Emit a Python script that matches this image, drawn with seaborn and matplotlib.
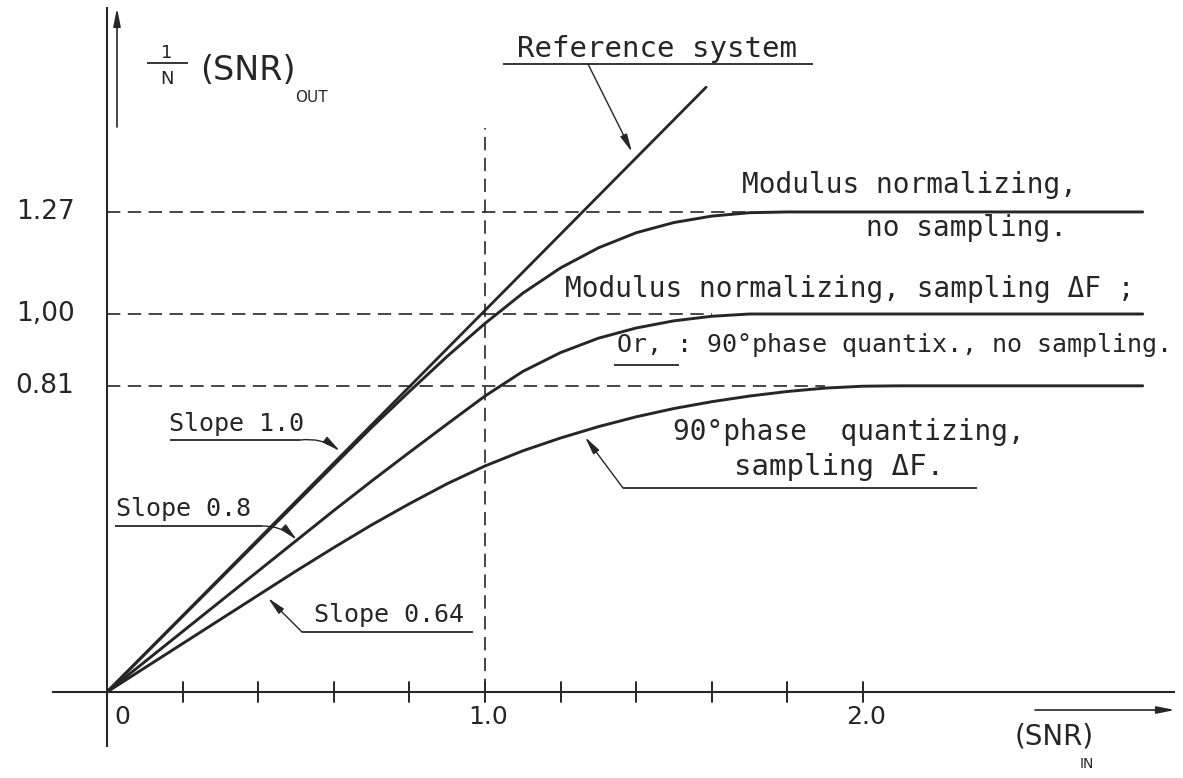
import matplotlib
matplotlib.use("Agg")
import matplotlib.pyplot as plt
import numpy as np
import pandas as pd
import seaborn as sns

# ---------------- data ----------------
snr_in = [0.0, 0.2, 0.4, 0.5, 0.6, 0.7, 0.8, 0.9, 1.0, 1.1, 1.2, 1.3, 1.4, 1.5,
          1.6, 1.7, 1.8, 1.9, 2.0, 2.1, 2.74]
mod_no_sampling = [0.0, 0.2, 0.4, 0.5, 0.6, 0.7, 0.795, 0.888, 0.975, 1.055, 1.122,
                   1.175, 1.215, 1.242, 1.259, 1.268, 1.27, 1.27, 1.27, 1.27, 1.27]
mod_sampling = [0.0, 0.16, 0.32, 0.40, 0.48, 0.558, 0.634, 0.709, 0.783, 0.848, 0.898,
                0.936, 0.963, 0.982, 0.994, 1.0, 1.0, 1.0, 1.0, 1.0, 1.0]
phase_sampling = [0.0, 0.128, 0.256, 0.32, 0.382, 0.442, 0.498, 0.551, 0.598, 0.638,
                  0.672, 0.702, 0.728, 0.75, 0.768, 0.783, 0.795, 0.804, 0.809, 0.81, 0.81]
ref_in = [0.0, 1.585]
ref_out = [0.0, 1.60]
level_values = [1.27, 1.00, 0.81]
level_labels = ["1.27", "1,00", "0.81"]
tick_values = [0.0, 0.2, 0.4, 0.6, 0.8, 1.0, 1.2, 1.4, 1.6, 1.8, 2.0]
tick_label_values = [0.0, 1.0, 2.0]
tick_labels = ["0", "1.0", "2.0"]
curve_names = ["Modulus normalizing, no sampling",
               "Modulus normalizing, sampling ΔF",
               "90° phase quantizing, sampling ΔF"]

# ---------------- figure / coordinate frame ----------------
sns.set_theme(style="white")
plt.rcParams['font.family'] = ['DejaVu Sans']
ink = '#262626'
MONO = ['DejaVu Sans Mono', 'DejaVu Sans']

W, H = 1183, 778
X0, Y0, S = 107, 692, 378          # layout: origin pixel and pixels per unit

fig = plt.figure(figsize=(W / 100, H / 100), dpi=100)
ax = fig.add_axes([0, 0, 1, 1])


def P(px, py):
    return ((px - X0) / S, (Y0 - py) / S)


def seg(p1, p2, **kw):
    a, b = P(*p1), P(*p2)
    ax.plot([a[0], b[0]], [a[1], b[1]], color=ink, solid_capstyle='butt', **kw)


def txt(px, py, s, fs=20, ha='center', va='baseline', family=None, **kw):
    x, y = P(px, py)
    ax.text(x, y, s, fontsize=fs, ha=ha, va=va, color=ink,
            family=family if family else MONO, **kw)


def arrow(p_from, p_to, rad=0.0, lw=1.0):
    ax.annotate('', xy=P(*p_to), xytext=P(*p_from),
                arrowprops=dict(arrowstyle='-|>,head_length=0.9,head_width=0.18',
                                mutation_scale=12, lw=lw, color=ink,
                                shrinkA=0, shrinkB=0,
                                connectionstyle=f'arc3,rad={rad}'))


# ---------------- curves ----------------
df = pd.DataFrame({
    'snr_in': snr_in * 3,
    'snr_out': mod_no_sampling + mod_sampling + phase_sampling,
    'curve': sum([[n] * len(snr_in) for n in curve_names], []),
})
sns.lineplot(data=df, x='snr_in', y='snr_out', units='curve', estimator=None,
             color=ink, lw=2.1, sort=False, ax=ax, legend=False)
sns.lineplot(x=ref_in, y=ref_out, color=ink, lw=2.0, ax=ax, legend=False)
ax.set_xlim((0 - X0) / S, (W - X0) / S)
ax.set_ylim((Y0 - H) / S, Y0 / S)
ax.axis('off')

# ---------------- axes ----------------
seg((52, Y0), (1175, Y0), lw=1.5)
seg((X0, 7), (X0, 747), lw=1.5)
for t in tick_values:
    ax.plot([t, t], [-10 / S, 10 / S], color=ink, lw=1.4)
for t, lab in zip(tick_label_values, tick_labels):
    dx = 15 / S if t == 0 else 3 / S
    ax.text(t + dx, -25 / S, lab, fontsize=18, ha='center', va='center', color=ink)

# axis arrows
arrow((117, 127), (117, 8), lw=1.2)
arrow((1035, 710), (1175, 710), lw=1.2)

# ---------------- reference lines ----------------
series_list = [mod_no_sampling, mod_sampling, phase_sampling]
for level, lab, series in zip(level_values, level_labels, series_list):
    x_end = next(x for x, v in zip(snr_in, series) if v >= level - 0.008)
    ax.plot([0, x_end], [level, level], color=ink, lw=1.2, dashes=(8, 4.5))
    ax.text(-62 / S, level, lab, fontsize=19, ha='center', va='center', color=ink)
ax.plot([1.0, 1.0], [0, P(0, 128)[1]], color=ink, lw=1.2, dashes=(8, 4.5))

# ---------------- axis titles ----------------
txt(167, 58, "1", fs=13, family='DejaVu Sans')
seg((147, 63), (188, 63), lw=1.3)
txt(167, 84, "N", fs=13, family='DejaVu Sans')
txt(200, 70, "(SNR)", fs=24, ha='left', va='center', family='DejaVu Sans')
txt(295, 97, "OUT", fs=11, ha='left', va='center', family='DejaVu Sans')

txt(1015, 737, "(SNR)", fs=20, ha='left', va='center', family='DejaVu Sans')
txt(1080, 764, "IN", fs=10, ha='left', va='center', family='DejaVu Sans')

# ---------------- annotations ----------------
txt(657, 57, "Reference system", fs=21)
seg((503, 64), (813, 64), lw=1.3)
arrow((588, 64), (632, 152), lw=1.0)

txt(910, 193, "Modulus normalizing,", fs=20)
txt(967, 236, "no sampling.", fs=20)

txt(850, 297, "Modulus normalizing, sampling ΔF ;", fs=20)
txt(617, 352, "Or, : 90°phase quantix., no sampling.", fs=18, ha='left')
seg((614, 365), (679, 365), lw=1.3)

txt(849, 440, "90°phase  quantizing,", fs=20)
txt(839, 475, "sampling ΔF.", fs=21)
seg((623, 488), (977, 488), lw=1.3)
arrow((623, 488), (585, 437), lw=1.0)

txt(237, 431, "Slope 1.0", fs=18)
seg((170, 440), (300, 440), lw=1.3)
arrow((300, 440), (340, 451), rad=-0.2, lw=1.0)

txt(183, 516, "Slope 0.8", fs=18)
seg((115, 526), (262, 526), lw=1.3)
arrow((262, 526), (297, 540), rad=-0.2, lw=1.0)

txt(389, 622, "Slope 0.64", fs=18)
seg((302, 632), (473, 632), lw=1.3)
arrow((302, 632), (268, 598), lw=1.0)

fig.savefig("out.png", dpi=100, facecolor='white')
